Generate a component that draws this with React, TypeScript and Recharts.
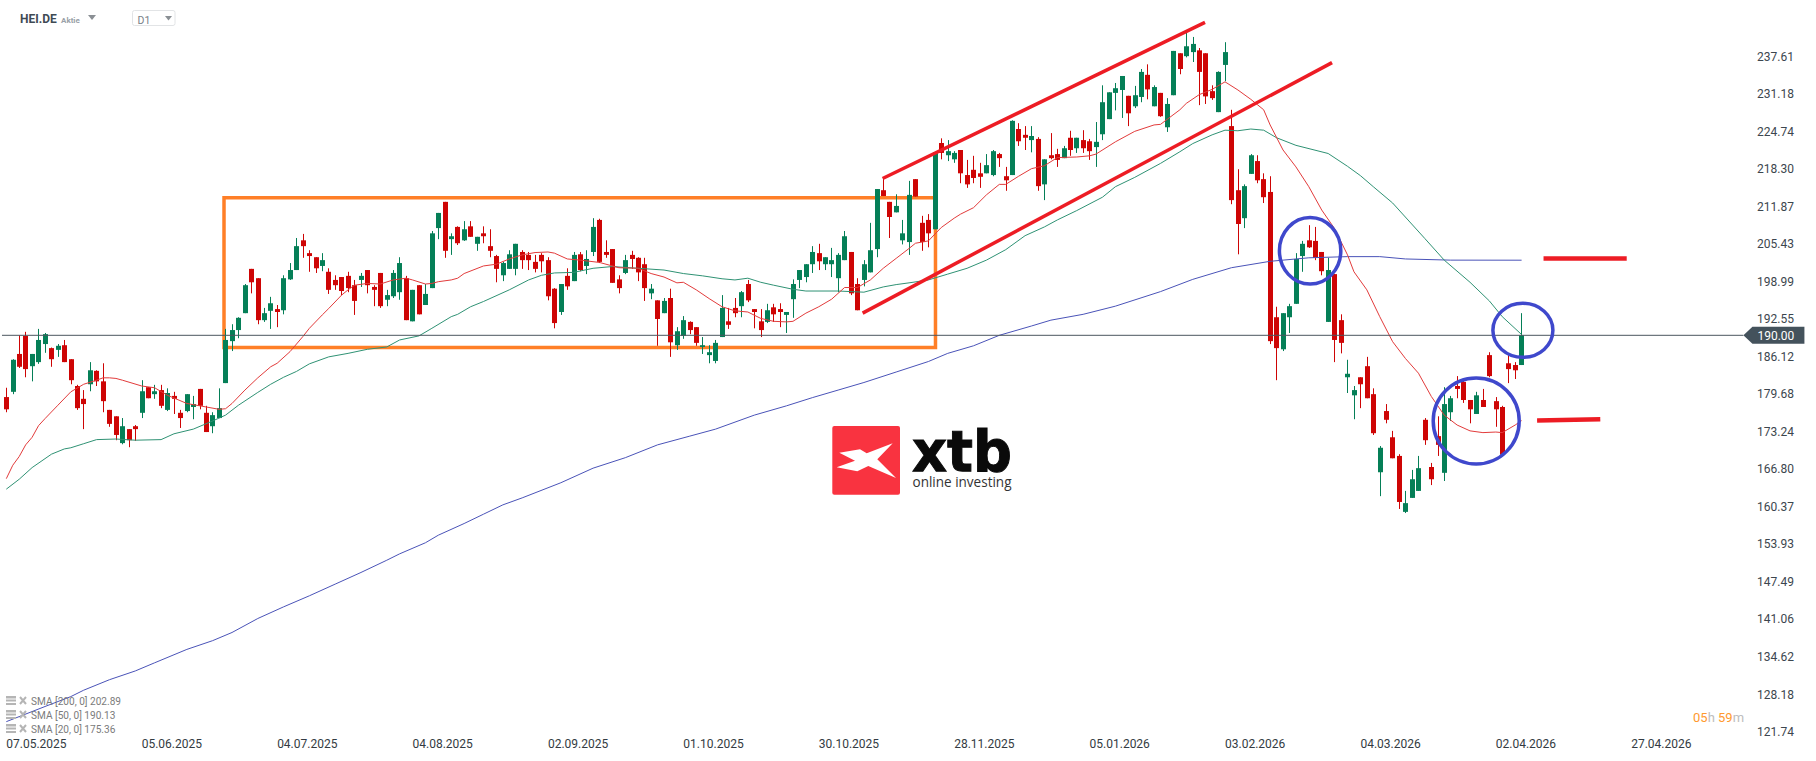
import React from 'react';
import {
  ComposedChart, Bar, Line, XAxis, YAxis, ReferenceArea, ReferenceLine, ReferenceDot,
} from 'recharts';

const opens = [
  179.4,180.3,186.8,189.9,184.7,185.4,188.5,187.8,187.5,188.3,
  185.9,181.3,179.1,181.6,183.9,182.1,177.2,176.1,171.5,173.9,
  174.4,176.7,181.1,179.9,180.6,177.2,179.6,176.7,177.0,177.7,
  180.8,176.7,174.4,175.8,181.8,189.0,190.9,193.8,201.4,199.8,
  192.6,194.2,194.5,194.3,199.6,201.2,206.3,204.1,203.4,201.9,
  200.9,199.5,200.0,200.2,198.6,199.5,201.2,198.3,200.7,196.1,
  196.7,197.4,199.8,192.4,198.6,195.2,198.1,208.4,212.9,206.5,
  208.6,206.3,208.7,205.7,207.5,205.3,203.6,200.3,201.4,201.4,
  204.3,203.8,202.6,203.8,202.9,198.0,194.0,200.2,199.3,203.9,
  201.9,204.3,209.8,204.3,204.8,199.6,200.7,203.8,203.3,202.2,
  197.2,196.0,193.8,196.4,188.3,189.9,192.3,191.4,188.0,186.6,
  185.6,189.7,192.4,194.7,195.0,198.8,194.5,192.4,192.3,194.8,
  194.5,193.5,196.2,199.5,200.0,202.2,204.1,202.2,202.2,199.8,
  202.9,204.3,198.8,199.5,200.8,204.8,214.9,212.9,211.1,206.3,
  206.0,216.8,209.3,209.8,208.2,223.0,220.9,220.2,221.8,217.5,
  218.4,217.8,217.8,217.5,221.1,217.3,217.5,225.4,224.4,223.5,
  223.7,215.9,220.9,221.1,220.4,223.9,222.1,223.5,223.3,222.3,
  224.5,227.1,231.6,232.1,231.1,229.3,230.9,234.7,229.3,231.6,
  225.7,231.2,238.4,237.9,238.6,238.9,238.4,231.9,228.3,236.4,
  225.9,214.9,210.1,217.7,219.9,216.8,214.6,193.1,187.6,193.1,
  195.4,203.6,206.3,206.2,204.3,192.3,200.5,192.6,182.8,179.7,
  182.8,184.7,179.9,166.5,177.0,172.5,169.3,159.7,162.1,163.3,
  175.5,167.4,172.7,166.4,176.8,181.3,182.0,178.9,176.5,178.9,
  186.6,178.7,177.7,185.2,184.9,184.9,
];

const highs = [
  181.0,185.9,190.0,190.6,186.8,191.1,190.4,187.9,188.5,189.2,
  185.9,181.5,180.6,185.4,184.0,185.2,177.2,176.1,175.8,173.9,
  174.6,182.3,181.1,181.5,181.5,180.9,180.3,177.2,179.9,179.6,
  180.8,177.9,176.8,180.9,191.1,191.9,193.1,198.8,201.4,199.8,
  194.7,196.6,195.2,200.3,202.4,206.7,207.4,204.6,203.4,204.1,
  201.5,200.3,200.0,200.9,199.5,200.7,201.2,198.6,200.7,197.8,
  201.2,203.4,200.2,197.8,198.6,198.8,207.9,211.0,212.9,207.5,
  208.7,209.6,209.6,206.9,208.7,208.2,203.8,202.6,204.6,205.7,
  204.6,204.3,203.8,204.1,203.4,198.1,198.8,201.5,204.3,204.3,
  204.6,210.1,210.0,206.3,204.8,200.3,203.8,204.5,203.4,203.3,
  198.8,196.0,196.4,198.0,191.4,193.3,192.4,191.4,189.7,188.3,
  189.2,196.9,194.7,196.4,197.6,199.5,194.5,194.5,195.4,195.4,
  195.5,194.0,199.6,201.2,202.2,205.3,205.7,203.4,205.0,204.1,
  207.9,204.3,199.8,202.9,209.3,215.1,217.0,212.9,214.2,209.8,
  216.5,216.8,210.5,210.8,221.4,223.8,223.5,221.6,221.8,220.1,
  220.8,219.6,221.1,221.8,221.3,218.9,226.9,226.4,225.9,225.9,
  224.0,220.2,224.7,222.0,222.5,225.1,223.9,225.2,223.7,226.6,
  232.9,231.7,233.3,234.5,231.1,232.8,235.7,236.5,232.9,231.6,
  230.7,238.8,238.4,242.0,241.2,239.3,238.4,232.9,235.3,240.3,
  228.7,218.5,215.9,221.1,220.9,217.8,217.3,194.9,193.8,195.4,
  204.1,206.2,208.9,208.6,204.3,203.3,200.5,193.6,185.8,181.3,
  182.8,186.3,180.9,171.0,178.2,173.6,169.6,163.3,166.9,169.3,
  175.8,168.1,176.1,181.1,179.6,183.0,182.3,178.9,180.3,180.8,
  187.1,179.4,177.9,186.6,185.4,193.8,
];

const lows = [
  176.8,179.9,184.4,182.8,182.1,185.1,187.0,184.6,186.3,185.4,
  181.6,177.2,173.9,180.4,181.3,176.8,174.3,172.0,171.3,170.8,
  171.9,175.8,179.2,179.1,177.5,177.0,176.5,174.1,176.8,175.6,
  177.3,173.4,173.2,175.8,181.8,187.3,189.5,193.8,197.2,191.9,
  192.3,191.1,191.4,193.6,199.5,201.2,203.3,200.9,200.7,201.0,
  197.1,197.8,196.9,197.4,193.5,198.3,197.2,195.0,194.7,195.0,
  196.4,196.1,192.6,192.4,193.6,195.2,198.1,206.5,203.3,203.8,
  205.5,206.2,206.9,204.5,205.8,203.4,199.1,199.3,201.4,200.3,
  201.4,201.2,200.8,200.8,196.0,191.2,193.5,197.8,199.3,201.0,
  200.5,203.6,202.4,203.3,199.0,197.2,200.5,201.4,199.3,195.9,
  196.2,188.2,193.8,186.3,187.5,189.4,190.2,188.2,186.8,185.2,
  185.2,189.7,191.1,193.1,193.1,195.7,191.2,189.7,192.1,192.3,
  191.4,190.4,193.0,198.1,199.1,200.7,201.2,201.2,200.0,197.4,
  202.9,196.9,194.3,198.4,200.8,203.4,213.9,206.7,211.1,205.6,
  203.8,213.8,204.5,205.1,208.2,220.2,219.9,219.6,216.1,215.3,
  216.1,215.3,217.8,217.3,218.9,214.8,217.5,222.5,221.8,221.4,
  214.8,213.2,220.2,218.9,220.4,220.8,221.3,221.3,220.1,218.9,
  223.5,227.1,228.6,227.3,225.9,229.0,230.0,230.5,229.3,227.5,
  224.9,231.2,234.8,237.7,236.9,229.5,229.7,230.4,228.3,233.6,
  212.5,203.9,208.4,217.7,216.1,212.7,188.5,182.3,187.3,190.4,
  195.4,200.9,205.0,202.9,200.3,192.3,185.4,186.9,180.1,175.6,
  177.5,179.2,172.9,162.4,174.9,168.9,160.2,159.5,162.1,163.3,
  171.2,164.3,169.3,165.0,175.3,179.2,178.4,174.9,176.5,177.7,
  182.8,174.3,169.3,181.8,182.5,184.9,
];

const closes = [
  177.3,185.8,184.6,184.2,186.8,189.2,190.2,185.9,188.2,185.4,
  182.3,177.5,178.2,184.0,182.1,178.7,174.8,172.9,174.4,172.0,
  173.9,180.4,179.2,180.4,177.9,180.1,179.1,175.8,179.9,178.2,
  177.9,173.4,176.3,177.5,189.2,190.9,193.0,198.6,199.1,192.6,
  193.8,195.5,194.0,199.8,201.2,205.3,205.3,203.6,201.5,202.9,
  197.8,198.6,197.6,198.1,195.9,200.2,198.6,197.8,195.0,196.9,
  200.7,202.4,192.6,197.8,193.6,197.1,207.5,211.0,204.5,207.0,
  205.8,208.2,206.9,206.9,207.0,204.5,201.4,202.4,203.9,205.7,
  202.9,202.9,201.4,202.7,196.7,192.1,198.8,198.4,203.8,201.2,
  203.1,208.6,202.6,203.8,199.0,198.1,202.9,203.1,200.8,198.1,
  198.0,192.8,195.9,188.8,190.7,192.6,190.9,188.7,188.3,187.1,
  188.7,194.7,191.8,193.8,197.4,196.0,194.0,190.9,194.3,193.6,
  194.0,194.0,198.8,201.2,202.2,204.3,202.7,203.4,202.9,203.8,
  207.0,197.2,194.3,202.2,204.6,215.1,213.9,210.3,212.2,207.5,
  214.1,213.8,206.0,207.5,221.4,221.3,221.6,221.3,217.8,215.9,
  217.0,217.2,219.2,221.6,220.4,216.6,226.8,223.3,223.9,224.2,
  215.6,220.2,220.4,220.1,222.1,221.8,223.9,222.1,221.6,223.2,
  230.0,231.7,232.4,234.5,228.1,231.2,235.2,232.2,232.6,227.6,
  229.7,238.8,235.7,239.6,240.0,235.2,231.0,230.7,235.2,238.6,
  213.2,209.1,215.6,220.9,216.6,213.7,189.0,187.8,193.8,195.0,
  203.1,205.7,205.1,203.3,201.0,201.2,189.2,188.7,183.4,180.6,
  181.6,179.2,173.2,170.7,175.5,168.9,161.4,161.2,165.3,167.2,
  172.0,165.3,171.2,178.2,179.2,180.8,178.9,177.3,179.7,177.7,
  183.0,177.3,169.5,184.2,184.0,190.0,
];

// [candle number (1 based), value], every few candles
const sma20: [number, number][] = [
  [1,165.4],[2,167.7],[3,169.2],[4,171.2],[5,172.5],[6,174.5],[7,175.7],[9,178.0],[11,180.3],[13,181.6],
  [15,182.3],[16,182.7],[17,182.7],[18,182.6],[19,182.3],[22,181.3],[24,181.0],[26,179.7],[29,178.3],[31,177.9],
  [34,177.3],[35,177.4],[36,178.3],[38,180.6],[40,182.7],[42,184.6],[43,185.2],[45,187.2],[47,189.8],[48,191.2],
  [50,193.5],[51,194.6],[53,196.9],[54,197.8],[55,198.6],[57,198.9],[59,198.8],[61,199.5],[63,199.8],[64,199.5],
  [66,198.8],[67,198.9],[68,199.2],[70,199.5],[71,199.8],[72,200.6],[75,201.9],[77,202.2],[79,203.1],[81,203.8],
  [83,204.2],[85,204.3],[86,204.1],[88,203.1],[90,202.9],[93,202.5],[96,201.6],[99,201.5],[101,200.6],[103,200.0],
  [105,199.0],[106,199.1],[108,197.8],[110,196.3],[112,194.9],[114,194.2],[116,194.0],[118,192.9],[120,192.4],[122,192.3],
  [123,192.4],[125,193.8],[127,194.9],[129,196.2],[131,198.2],[133,198.2],[135,199.5],[137,201.5],[139,203.2],[141,204.9],
  [142,205.8],[144,206.2],[146,208.5],[148,210.1],[149,210.8],[151,211.9],[153,214.1],[155,215.9],[156,215.9],[158,217.3],
  [160,218.6],[162,219.1],[164,220.5],[167,220.6],[169,220.8],[170,221.1],[173,223.2],[176,225.0],[179,226.1],[180,226.2],
  [183,228.7],[184,229.8],[186,231.3],[188,232.2],[190,233.5],[192,232.1],[194,230.5],[195,229.6],[196,228.7],[197,226.1],
  [199,221.8],[201,218.9],[203,215.5],[205,211.5],[207,208.3],[209,203.8],[210,200.9],[212,197.8],[214,193.2],[216,188.9],
  [218,186.0],[220,183.5],[222,179.5],[224,176.3],[226,174.6],[228,173.6],[230,173.3],[232,173.4],[233,173.3],[235,174.6],
  [236,175.36],
];

const sma50: [number, number][] = [
  [1,163.6],[3,165.3],[5,167.3],[8,169.6],[10,170.5],[11,170.7],[13,171.4],[15,172.1],[18,172.2],[21,172.0],
  [25,172.1],[27,173.1],[30,173.9],[33,175.3],[35,176.3],[37,178.0],[40,180.2],[42,181.6],[44,182.8],[46,183.8],
  [48,185.1],[51,186.3],[54,186.9],[57,187.6],[60,188.0],[62,189.2],[65,189.9],[67,191.2],[70,193.2],[71,193.6],
  [73,194.9],[75,195.8],[79,197.8],[82,199.5],[84,200.3],[86,200.7],[89,200.8],[92,201.5],[95,201.8],[99,201.5],
  [103,201.2],[106,200.6],[109,200.2],[112,199.7],[114,199.5],[116,199.8],[118,199.1],[120,198.6],[123,197.9],[125,197.6],
  [130,197.6],[134,197.4],[137,198.3],[139,198.7],[141,199.0],[144,199.5],[147,200.5],[150,201.5],[153,202.9],[156,204.7],
  [159,207.1],[162,208.6],[164,209.8],[167,211.4],[171,213.7],[173,215.5],[176,217.1],[180,219.5],[183,221.5],[185,222.9],
  [188,224.4],[190,225.2],[192,225.1],[194,225.4],[196,225.2],[198,223.9],[201,222.6],[206,221.2],[209,219.0],[211,217.4],
  [213,215.5],[216,212.7],[221,206.6],[224,202.9],[228,199.1],[231,195.9],[233,193.2],[236,190.13],
];

const sma200: [number, number][] = [
  [1,123.7],[7,126.3],[11,128.0],[13,129.1],[17,130.9],[21,132.4],[24,133.8],[29,136.1],[33,137.6],[36,139.0],
  [40,141.4],[44,143.4],[48,145.3],[52,147.3],[56,149.3],[60,151.4],[62,152.5],[66,154.4],[68,155.7],[72,157.7],
  [75,159.3],[78,160.9],[81,162.1],[87,164.7],[92,167.2],[97,169.0],[102,171.2],[107,172.7],[111,173.9],[117,176.3],
  [122,177.9],[126,179.3],[130,180.6],[134,181.9],[139,183.7],[144,185.5],[147,186.9],[151,188.2],[155,190.0],[160,191.6],
  [163,192.6],[168,193.6],[173,195.0],[180,197.5],[185,199.6],[191,201.6],[197,202.7],[203,203.3],[209,203.5],[214,203.5],
  [218,203.1],[225,202.9],[236,202.89],
];

const yTicks = [
  237.61, 231.18, 224.74, 218.3, 211.87, 205.43, 198.99, 192.55, 186.12, 179.68,
  173.24, 166.8, 160.37, 153.93, 147.49, 141.06, 134.62, 128.18, 121.74,
];
const xTicks = [0, 21, 42, 63, 84, 105, 126, 147, 168, 189, 210, 231, 252];
const xLabels = [
  '07.05.2025', '05.06.2025', '04.07.2025', '04.08.2025', '02.09.2025', '01.10.2025', '30.10.2025',
  '28.11.2025', '05.01.2026', '03.02.2026', '04.03.2026', '02.04.2026', '27.04.2026',
];
const legendRows = ['SMA [200, 0] 202.89', 'SMA [50, 0] 190.13', 'SMA [20, 0] 175.36'];
const lastPrice = 190;

const RED = '#CE0505';
const GREEN = '#057F57';
const MARK_RED = '#ED1C24';
const MARK_BLUE = '#3F48CC';

const pick = (list: [number, number][], i: number) => {
  const hit = list.find((p) => p[0] === i + 1);
  return hit ? hit[1] : null;
};

const rows = opens.map((open, i) => ({
  i,
  open,
  high: highs[i],
  low: lows[i],
  close: closes[i],
  sma20: pick(sma20, i),
  sma50: pick(sma50, i),
  sma200: pick(sma200, i),
}));

// wick and body, worked out from the high-low rectangle recharts hands over
const Candle = (props: any) => {
  const { x, y, width, height, payload } = props;
  const { open, high, low, close } = payload;
  const perUnit = height / (high - low);
  const up = close >= open;
  const top = y + (high - Math.max(open, close)) * perUnit;
  const bottom = y + (high - Math.min(open, close)) * perUnit;
  const left = Math.round(x);
  const fill = up ? GREEN : RED;
  return (
    <g>
      <rect x={left + width / 2 - 0.5} y={y} width={1} height={height} fill={fill} />
      <rect x={left} y={top} width={width} height={Math.max(bottom - top, 1)} fill={fill} />
    </g>
  );
};

const Ring = (rx: number, ry: number) => (props: any) => (
  <ellipse cx={props.cx} cy={props.cy} rx={rx} ry={ry} fill="none" stroke={MARK_BLUE} strokeWidth={3.5} />
);

const PriceFlag = (props: any) => {
  const { cx, cy } = props;
  return (
    <g>
      <path
        d={`M${cx} ${cy} L${cx + 9} ${cy - 8.5} L${cx + 61} ${cy - 8.5} L${cx + 61} ${cy + 8.5} L${cx + 9} ${cy + 8.5} Z`}
        fill="#44525C"
      />
      <text x={cx + 14} y={cy + 4.5} fontSize={12} fill="#fff" fontFamily="Roboto">190.00</text>
    </g>
  );
};

const DateTick = (props: any) => {
  const { x, payload } = props;
  return (
    <text x={x} y={748} fontSize={12} fill="#333B42" fontFamily="Roboto" textAnchor="start">
      {xLabels[xTicks.indexOf(payload.value)]}
    </text>
  );
};

const PriceTick = (props: any) => {
  const { y, payload } = props;
  return (
    <text x={1757} y={y + 3} fontSize={12} fill="#3C464E" fontFamily="Roboto">
      {payload.value.toFixed(2)}
    </text>
  );
};

function Overlay() {
  return (
    <svg width={1816} height={761} style={{ position: 'absolute', left: 0, top: 0, pointerEvents: 'none' }}>
      {/* instrument header */}
      <text x={20} y={23} fontSize={12} fontWeight={700} fill="#3F4A54" fontFamily="Roboto">HEI.DE</text>
      <text x={61} y={23} fontSize={8} fontWeight={700} fill="#9AA1A8" fontFamily="Roboto">Aktie</text>
      <path d="M88 15 L96 15 L92 20 Z" fill="#8A8F94" />
      <rect x={132.5} y={10.5} width={42.5} height={15} rx={2} fill="#fff" stroke="#E2E4E6" />
      <text x={137.5} y={24} fontSize={10.5} fill="#7A8188" fontFamily="Roboto">D1</text>
      <path d="M165 16 L172 16 L168.5 20.5 Z" fill="#8A8F94" />

      {/* indicator list */}
      {legendRows.map((row, k) => (
        <g key={row} transform={`translate(0,${k * 14})`}>
          <rect x={6} y={696} width={10} height={2.5} fill="#B5B5B5" />
          <rect x={6} y={699.5} width={10} height={2} fill="#B5B5B5" />
          <rect x={6} y={703} width={10} height={2} fill="#B5B5B5" />
          <path d="M20 697 L26 704 M26 697 L20 704" stroke="#B5B5B5" strokeWidth={2} />
          <text x={31} y={705} fontSize={10.1} fill="#7B7B7B" fontFamily="Roboto">{row}</text>
        </g>
      ))}

      {/* logo */}
      <rect x={832.3} y={426} width={67.7} height={68.7} rx={2} fill="#F93340" />
      <path
        d="M839.3 452.7 L860 449.3 L866.7 453.3 L892.7 443.3 L877.3 459.3 L896 478 L868.3 466 L857.3 471.3 L836.7 467.3 L855 460.7 Z"
        fill="#fff"
      />
      <text x={912} y={470.7} fontSize={57} fontWeight={700} fill="#0A0A0A" stroke="#0A0A0A" strokeWidth={1}
        fontFamily="DejaVu Sans" textLength={100} lengthAdjust="spacingAndGlyphs">xtb</text>
      <text x={912.5} y={487} fontSize={15} fill="#333" fontFamily="Open Sans"
        textLength={99} lengthAdjust="spacingAndGlyphs">online investing</text>

      {/* countdown */}
      <text x={1693} y={722} fontSize={13} fontFamily="Roboto" fill="#FF9A2E">
        05<tspan fill="#BDBDBD">h</tspan> 59<tspan fill="#BDBDBD">m</tspan>
      </text>
    </svg>
  );
}

export default function App() {
  return (
    <div style={{ position: 'absolute', left: 0, top: 0, width: 1816, height: 761, background: '#fff', overflow: 'hidden' }}>
      <ComposedChart width={1816} height={761} data={rows} margin={{ top: 0, right: 0, bottom: 0, left: 0 }}>
        <XAxis
          dataKey="i"
          type="number"
          domain={[-0.98, 269.8]}
          ticks={xTicks}
          interval={0}
          height={26}
          axisLine={false}
          tickLine={false}
          tick={<DateTick />}
          allowDataOverflow
        />
        <YAxis
          orientation="right"
          type="number"
          domain={[121.41, 247.54]}
          ticks={yTicks}
          interval={0}
          width={70}
          axisLine={false}
          tickLine={false}
          tick={<PriceTick />}
          allowDataOverflow
        />
        <Bar dataKey={(d: any) => [d.low, d.high]} barSize={5} shape={<Candle />} isAnimationActive={false} />
        <Line dataKey="sma200" stroke="#4A53B8" strokeWidth={1} dot={false} activeDot={false} connectNulls isAnimationActive={false} />
        <Line dataKey="sma50" stroke="#2F9274" strokeWidth={1} dot={false} activeDot={false} connectNulls isAnimationActive={false} />
        <Line dataKey="sma20" stroke="#E23B3B" strokeWidth={1} dot={false} activeDot={false} connectNulls isAnimationActive={false} />

        <ReferenceLine
          segment={[{ x: -0.67, y: lastPrice }, { x: 269.4, y: lastPrice }]}
          stroke="#4A555E"
          strokeWidth={1}
        />
        <ReferenceArea x1={33.76} x2={144.1} y1={187.9} y2={213.6} fill="none" stroke="#FF7F27" strokeWidth={3.5} fillOpacity={0} />
        <ReferenceLine segment={[{ x: 135.9, y: 216.9 }, { x: 185.9, y: 243.7 }]} stroke={MARK_RED} strokeWidth={3.5} />
        <ReferenceLine segment={[{ x: 132.8, y: 193.8 }, { x: 205.6, y: 236.8 }]} stroke={MARK_RED} strokeWidth={3.5} />
        <ReferenceLine segment={[{ x: 238.4, y: 203.2 }, { x: 251.3, y: 203.2 }]} stroke={MARK_RED} strokeWidth={4.5} />
        <ReferenceLine segment={[{ x: 237.4, y: 175.4 }, { x: 247.2, y: 175.6 }]} stroke={MARK_RED} strokeWidth={4.5} />
        <ReferenceDot x={202.2} y={204.5} shape={Ring(30.7, 33.3)} />
        <ReferenceDot x={227.96} y={175.3} shape={Ring(43, 43)} />
        <ReferenceDot x={235.2} y={190.85} shape={Ring(30, 27)} />
        <ReferenceDot x={269.4} y={lastPrice} shape={<PriceFlag />} ifOverflow="visible" />
      </ComposedChart>
      <Overlay />
    </div>
  );
}
